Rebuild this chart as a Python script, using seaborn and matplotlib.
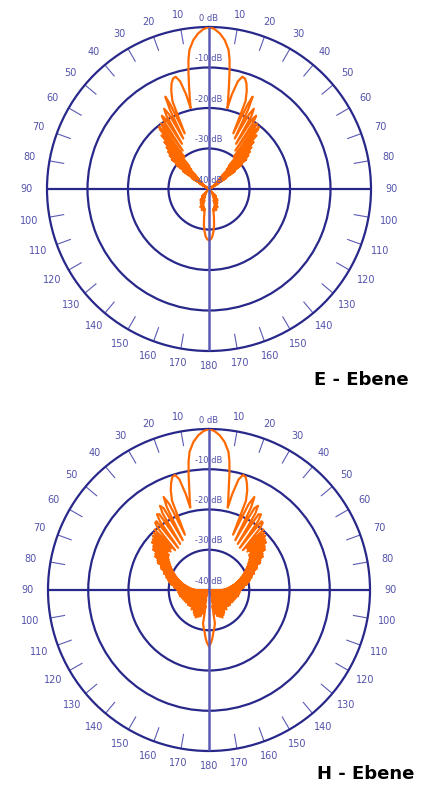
import numpy as np
import pandas as pd
import matplotlib
matplotlib.use("Agg")
import matplotlib.pyplot as plt
import seaborn as sns

e_haupt_deg = [0, 2, 4, 6, 8, 9, 10, 11, 12, 12.8]
e_haupt_db = [0, -0.5, -1.5, -3.0, -5.3, -7.6, -10.8, -14.2, -17.2, -19.5]
e_neben_deg = [13.6, 15, 16.5, 18, 19.5, 21, 22.6, 23.6,
               24.6, 25.3, 26.2, 27,
               28.2, 29.2, 30.1, 30.9,
               31.9, 32.8, 33.7, 34.4,
               35.4, 36.2, 37, 37.7,
               38.6]
e_neben_db = [-16, -12.5, -11.1, -11.3, -12.3, -14, -16.5, -25,
              -17, -14.8, -18, -26,
              -19, -17.3, -19, -27,
              -19.5, -18.5, -20.5, -28.5,
              -20.5, -20, -21.5, -30,
              -20.3]
e_fluegel_deg = [39.5, 40.5, 41.5, 42.5, 43.5, 44.5, 45.5, 46.5, 47.5, 48.5, 49.5,
                 50.5, 51.5, 52.5, 53.5, 54.5, 55.5, 56.5, 57.5, 58.5, 59.5, 61]
e_fluegel_db = [-21, -32.5, -22.3, -33.5, -24, -35.5, -25.3, -36.5, -26.3, -37.5, -27.2,
                -38, -28.2, -38.5, -30, -39, -32.2, -39.5, -35, -40, -37.5, -40]
e_rueck_deg = [135, 137, 140, 143, 146, 149, 152, 155, 158, 161, 164, 166, 168,
               170, 172, 174, 176, 178, 180]
e_rueck_db = [-40, -37.5, -39, -36.5, -38.5, -36, -38, -35, -37, -34.5, -35.5, -34.5, -35,
              -33, -31, -29.5, -28.2, -27.6, -27.3]

h_haupt_deg = [0, 2, 4, 6, 8, 9, 10, 11, 12, 12.8]
h_haupt_db = [0, -0.5, -1.5, -3.0, -5.3, -7.6, -10.8, -14.2, -17.0, -19.0]
h_neben_deg = [13.6, 15, 16.5, 18, 19.5, 21, 22.5, 23.5,
               24.8, 26, 27, 27.8,
               29, 30.2, 31.2, 32,
               33.2, 34.5, 35.5, 36.2,
               37.4, 38.6, 39.6, 40.4]
h_neben_db = [-15.5, -11.5, -10.2, -10.5, -11.8, -13.5, -16, -25,
              -16.5, -14.3, -17, -26,
              -16.8, -15.8, -17.8, -26.5,
              -17.5, -17.2, -19, -27,
              -18.5, -18.6, -20, -27]
h_fluegel_deg = [42, 43, 44, 45, 46, 47, 48, 49, 50, 51, 52, 53, 54, 55, 56, 57,
                 58, 59, 60, 61, 62, 63, 64, 65, 66, 67, 68, 69, 70, 71, 72, 73,
                 74, 75, 76, 77, 78, 79, 80, 81, 82, 83, 84, 85, 86, 87, 88, 89, 90]
h_fluegel_db = [-19.8, -26, -20.3, -26.5, -20.6, -26, -21.2, -26.8, -21.5, -27, -22.4, -27.5,
                -22.8, -28, -23.9, -28.5, -24.2, -29, -25.2, -29.5, -25.6, -30, -26.7, -30.5,
                -27, -31, -27.9, -31.5, -28.1, -32, -28.8, -32.5, -29, -33, -29.5, -33.5,
                -29.8, -34, -30.3, -34.5, -30.6, -35, -31.2, -35.5, -31.4, -36, -31.9, -36.5, -32.1]
h_rueck_deg = [92, 94, 96, 98, 100, 102, 104, 106, 108, 110, 112, 114, 116, 118, 120,
               122, 124, 126, 128, 130, 132, 134, 136, 138, 140, 142, 144, 146, 148, 150,
               152, 154, 156, 158, 160, 162, 164, 166, 168, 170, 172, 174, 176, 178, 180]
h_rueck_db = [-39, -32.3, -39.5, -32.5, -39, -32.6, -39.5, -33, -39, -33.2, -39.5, -33.4, -39,
              -33.5, -39.5, -33.8, -39, -33.6, -39.5, -33.8, -39, -34, -39.5, -33.5, -39, -33.8,
              -39.5, -33.2, -39, -32.8, -39, -32.4, -38.5, -32.8, -38, -33.2, -37.5, -34, -36,
              -31.5, -30.5, -29.5, -28, -26.8, -26]

ringe_db = [0, -10, -20, -30, -40]
winkel_ticks = [w for w in range(10, 360, 10) if w % 90 != 0]

navy = "#28288a"
hellblau = "#5a5ab4"
textblau = "#5252aa"
orange = "#ff6a00"

sns.set_style("white")
plt.rcParams["font.family"] = ["DejaVu Sans"]


def spiegeln(teile):
    deg = np.concatenate([np.array(d, float) for d, _ in teile])
    db = np.concatenate([np.array(v, float) for _, v in teile])
    return np.concatenate([deg, 360 - deg[::-1]]), np.concatenate([db, db[::-1]])


def zeichne_diagramm(ax, deg, db):
    ax.set_theta_zero_location("N")
    ax.set_theta_direction(-1)
    df = pd.DataFrame({"theta": np.deg2rad(deg), "pegel": db})
    sns.lineplot(data=df, x="theta", y="pegel", ax=ax, sort=False, estimator=None,
                 color=orange, lw=1.6, zorder=3)
    ax.set_xlabel("")
    ax.set_ylabel("")
    ax.set_rlim(-40, 0)
    ax.set_xticks([])
    ax.set_yticks([-30, -20, -10])
    ax.set_yticklabels([])
    ax.xaxis.grid(False)
    ax.yaxis.grid(True, color=navy, lw=1.6)
    ax.spines["polar"].set_color(navy)
    ax.spines["polar"].set_linewidth(1.6)

    # Achsenkreuz und Gradstriche
    ax.vlines(np.deg2rad([90, 270]), -40, 0, color=navy, lw=1.6, zorder=2)
    ax.vlines(np.deg2rad([0, 180]), -40, 0, color=hellblau, lw=1.8, zorder=4)
    ax.vlines(np.deg2rad(winkel_ticks), -3.7, 0, color=hellblau, lw=0.8, zorder=2)

    for w in range(10, 360, 10):
        txt = str(w if w <= 180 else 360 - w)
        abstand = 3.7 + 1.4 * np.sin(np.deg2rad(w)) ** 2
        ax.text(np.deg2rad(w), abstand, txt, ha="center", va="center",
                fontsize=7, color=textblau)
    for r in ringe_db:
        ax.text(0, r + 2.2, f"{r} dB", ha="center", va="center",
                fontsize=6, color=textblau, zorder=5)


fig = plt.figure(figsize=(4.27, 7.85), dpi=100)
ax_e = fig.add_axes([47 / 427, 434 / 785, 324 / 427, 324 / 785], projection="polar")
ax_h = fig.add_axes([48 / 427, 34 / 785, 322 / 427, 322 / 785], projection="polar")

e_deg, e_db = spiegeln([(e_haupt_deg, e_haupt_db), (e_neben_deg, e_neben_db),
                        (e_fluegel_deg, e_fluegel_db), (e_rueck_deg, e_rueck_db)])
h_deg, h_db = spiegeln([(h_haupt_deg, h_haupt_db), (h_neben_deg, h_neben_db),
                        (h_fluegel_deg, h_fluegel_db), (h_rueck_deg, h_rueck_db)])

zeichne_diagramm(ax_e, e_deg, e_db)
zeichne_diagramm(ax_h, h_deg, h_db)

fig.text(361 / 427, 1 - 380 / 785, "E - Ebene", ha="center", va="center",
         fontsize=13, fontweight="bold", color="black")
fig.text(366 / 427, 1 - 774 / 785, "H - Ebene", ha="center", va="center",
         fontsize=13, fontweight="bold", color="black")

fig.savefig("out.png", dpi=100)
